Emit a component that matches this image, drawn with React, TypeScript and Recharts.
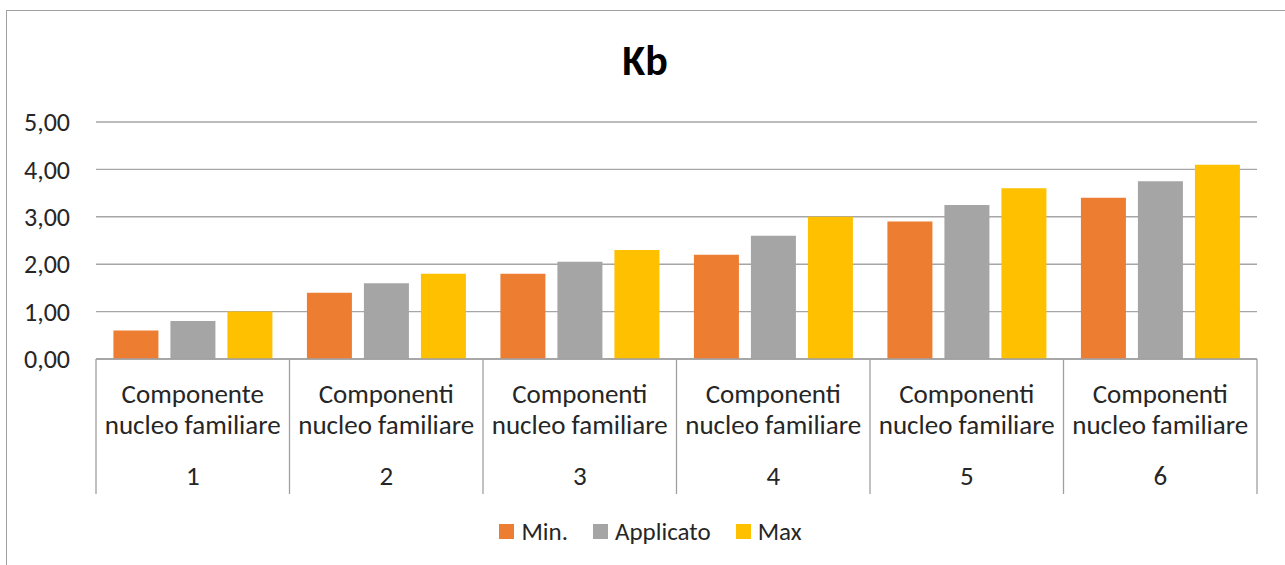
import { Bar, BarChart, CartesianGrid, Legend, XAxis, YAxis } from "recharts"

const groups = ["1", "2", "3", "4", "5", "6"]
const groupNames = [
  "Componente",
  "Componenti",
  "Componenti",
  "Componenti",
  "Componenti",
  "Componenti",
]
const minValues = [0.6, 1.4, 1.8, 2.2, 2.9, 3.4]
const appliedValues = [0.8, 1.6, 2.05, 2.6, 3.25, 3.75]
const maxValues = [1.0, 1.8, 2.3, 3.0, 3.6, 4.1]
const yTicks = [0, 1, 2, 3, 4, 5]

const series = [
  { key: "min", name: "Min.", color: "#ED7D31" },
  { key: "applied", name: "Applicato", color: "#A5A5A5" },
  { key: "max", name: "Max", color: "#FFC000" },
]

const data = groups.map((g, i) => ({
  group: g,
  label: groupNames[i],
  min: minValues[i],
  applied: appliedValues[i],
  max: maxValues[i],
}))

const FONT = "Carlito, Calibri, Lato, sans-serif"
const TEXT = "#262626"
const LINE = "#a0a0a0"

const CategoryTick = (props: any) => {
  const { x, y, payload, index } = props
  const half = payload?.offset || 193.5 / 2
  const row = data[index] || data[0]
  return (
    <g>
      <line x1={x - half} x2={x - half} y1={y} y2={y + 135} stroke={LINE} strokeWidth={1.3} />
      {index === groups.length - 1 && (
        <line x1={x + half} x2={x + half} y1={y} y2={y + 135} stroke={LINE} strokeWidth={1.3} />
      )}
      <text x={x} y={y + 44} textAnchor="middle" fill={TEXT} fontSize={27} fontFamily={FONT}>
        {row.label}
      </text>
      <text x={x} y={y + 75} textAnchor="middle" fill={TEXT} fontSize={27} fontFamily={FONT}>
        nucleo familiare
      </text>
      <text x={x} y={y + 126} textAnchor="middle" fill={TEXT} fontSize={27} fontFamily={FONT}>
        {payload.value}
      </text>
    </g>
  )
}

const LegendContent = () => (
  <div style={{ display: "flex", justifyContent: "center", alignItems: "center", height: 30, fontFamily: FONT, fontSize: 25, color: TEXT }}>
    {series.map((s, i) => (
      <div key={s.key} style={{ display: "flex", alignItems: "center", marginLeft: i === 0 ? 0 : 25 }}>
        <span style={{ width: 15, height: 15, background: s.color, display: "inline-block", marginRight: 7 }} />
        <span>{s.name}</span>
      </div>
    ))}
  </div>
)

export default function App() {
  return (
    <div style={{ position: "absolute", left: 0, top: 0, width: 1285, height: 565, background: "#fff", overflow: "hidden" }}>
      <div
        style={{
          position: "absolute",
          left: 6,
          top: 10,
          width: 1300,
          height: 600,
          borderTop: `1.5px solid ${LINE}`,
          borderLeft: `1.5px solid ${LINE}`,
        }}
      />
      <svg style={{ position: "absolute", left: 0, top: 0 }} width={1285} height={100}>
        <text x={645} y={75} textAnchor="middle" fontSize={42} fontWeight="bold" fontFamily={FONT} fill="#000">
          Kb
        </text>
      </svg>
      <div style={{ position: "absolute", left: 0, top: 0 }}>
        <BarChart
          width={1285}
          height={565}
          data={data}
          margin={{ top: 122, right: 28, left: 0, bottom: 41 }}
          barCategoryGap="9%"
          barGap={12}
        >
          <CartesianGrid vertical={false} stroke="#a6a6a6" strokeWidth={1.4} />
          <YAxis
            domain={[0, 5]}
            ticks={yTicks}
            width={96}
            axisLine={false}
            tickLine={false}
            tickSize={0}
            tickMargin={26}
            tickFormatter={(v: number) => v.toFixed(2).replace(".", ",")}
            tick={{ fill: TEXT, fontSize: 26, fontFamily: FONT }}
          />
          <XAxis
            dataKey="group"
            height={135}
            axisLine={{ stroke: LINE, strokeWidth: 1.3 }}
            tickLine={false}
            tickSize={0}
            tickMargin={0}
            interval={0}
            tick={<CategoryTick />}
          />
          <Legend
            content={<LegendContent />}
            wrapperStyle={{ position: "absolute", top: 516, left: 8, width: 1285, height: 30 }}
          />
          {series.map((s) => (
            <Bar key={s.key} dataKey={s.key} name={s.name} fill={s.color} isAnimationActive={false} />
          ))}
        </BarChart>
      </div>
    </div>
  )
}
